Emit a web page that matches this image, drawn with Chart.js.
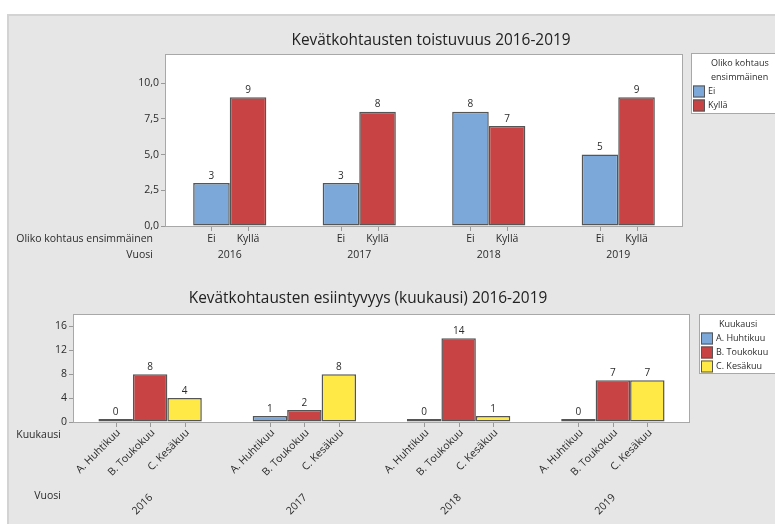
<!DOCTYPE html>
<html>
<head>
<meta charset="utf-8">
<script src="https://cdn.jsdelivr.net/npm/chart.js@4.4.1/dist/chart.umd.min.js"></script>
<style>
  body { margin: 0; background: #fff; width: 775px; height: 525px; position: relative; overflow: hidden; }
  #panel { position: absolute; left: 7px; top: 14px; right: 0; bottom: 1px; background: #e6e6e6;
           border-left: 2px solid #d3d3d3; border-top: 2px solid #d3d3d3; }
  .box { position: absolute; left: 0; width: 775px; }
  #box1 { top: 0; height: 270px; }
  #box2 { top: 270px; height: 255px; }
</style>
</head>
<body>
<div id="panel"></div>
<div class="box" id="box1"><canvas id="chartFirst"></canvas></div>
<div class="box" id="box2"><canvas id="chartMonth"></canvas></div>
<script>
/* =========================
    Data
========================= */
const years = ['2016', '2017', '2018', '2019'];
const firstLabels = ['Ei', 'Kyllä'];
const firstEi = [3, 3, 8, 5];
const firstKylla = [9, 8, 7, 9];
const firstTicks = [0, 2.5, 5, 7.5, 10];

const months = ['A. Huhtikuu', 'B. Toukokuu', 'C. Kesäkuu'];
const monthHuhti = [0, 1, 0, 0];
const monthTouko = [8, 2, 14, 7];
const monthKesa = [4, 8, 1, 7];
const monthTicks = [0, 4, 8, 12, 16];

/* =========================
    Style
========================= */
const FONT = "'Open Sans', 'Noto Sans', sans-serif";
const BLUE = '#7ba7d9';
const RED = '#c84444';
const YELLOW = '#ffe947';
const EDGE = '#555555';
const TEXT = '#2b2b2b';

// zero bars are drawn as a thin black line
function barFill(color) {
    return ctx => (ctx.raw === 0 ? '#111' : color);
}

/* =========================
    Plugin: plot box, labels, legend
========================= */
const decorPlugin = {
    id: 'decor',
    beforeDraw(chart) {
        const { ctx, chartArea: a } = chart;
        ctx.save();
        ctx.fillStyle = '#fff';
        ctx.fillRect(a.left, a.top, a.width, a.height);
        ctx.restore();
    },
    afterDatasetsDraw(chart, args, opts) {
        const { ctx, chartArea: a } = chart;
        const xScale = chart.scales.x;
        ctx.save();

        // plot border
        ctx.strokeStyle = '#a8a8a8';
        ctx.lineWidth = 1;
        ctx.strokeRect(Math.round(a.left) + 0.5, Math.round(a.top) + 0.5,
            Math.round(a.width) - 1, Math.round(a.height));

        // value labels + ticks + sub labels
        chart.data.datasets.forEach((ds, di) => {
            const meta = chart.getDatasetMeta(di);
            meta.data.forEach((bar, i) => {
                ctx.fillStyle = TEXT;
                ctx.font = '10px ' + FONT;
                ctx.textAlign = 'center';
                ctx.textBaseline = 'bottom';
                ctx.fillText(String(ds.data[i]), bar.x, bar.y - 2);

                ctx.strokeStyle = '#999';
                ctx.beginPath();
                ctx.moveTo(Math.round(bar.x) + 0.5, a.bottom + 1);
                ctx.lineTo(Math.round(bar.x) + 0.5, a.bottom + 5);
                ctx.stroke();

                ctx.font = '10.5px ' + FONT;
                if (opts.rotate) {
                    ctx.save();
                    ctx.translate(bar.x + 3, a.bottom + 9);
                    ctx.rotate(-Math.PI / 4);
                    ctx.textAlign = 'right';
                    ctx.textBaseline = 'middle';
                    ctx.fillText(ds.label, 0, 0);
                    ctx.restore();
                } else {
                    ctx.textBaseline = 'middle';
                    ctx.fillText(ds.label, bar.x, a.bottom + opts.subY);
                }
            });
        });

        // group (year) labels
        ctx.font = '10.5px ' + FONT;
        ctx.fillStyle = TEXT;
        chart.data.labels.forEach((lab, i) => {
            const x = xScale.getPixelForValue(i);
            if (opts.rotate) {
                ctx.save();
                ctx.translate(x + 1, a.bottom + opts.groupY);
                ctx.rotate(-Math.PI / 4);
                ctx.textAlign = 'right';
                ctx.textBaseline = 'middle';
                ctx.fillText(lab, 0, 0);
                ctx.restore();
            } else {
                ctx.textAlign = 'center';
                ctx.textBaseline = 'middle';
                ctx.fillText(lab, x, a.bottom + opts.groupY);
            }
        });

        // row names on the left
        ctx.textAlign = 'right';
        ctx.textBaseline = 'middle';
        ctx.fillText(opts.rowNames[0], a.left - 12, a.bottom + opts.subY);
        ctx.fillText(opts.rowNames[1], a.left - 12, a.bottom + opts.groupY);

        // legend
        const lx = a.right + opts.legendGap;
        const ly = a.top + opts.legendTop;
        ctx.fillStyle = '#fff';
        ctx.fillRect(lx, ly, 120, opts.legendHeight);
        ctx.strokeStyle = '#a8a8a8';
        ctx.strokeRect(Math.round(lx) + 0.5, Math.round(ly) + 0.5, 120, opts.legendHeight);
        ctx.font = '9px ' + FONT;
        ctx.fillStyle = TEXT;
        ctx.textAlign = 'left';
        opts.legendTitle.forEach((t, i) => {
            ctx.fillText(t, lx + 20, ly + 10 + i * 14);
        });
        const itemTop = ly + 10 + opts.legendTitle.length * 14;
        chart.data.datasets.forEach((ds, di) => {
            const y = itemTop + di * 14;
            ctx.fillStyle = ds.legendColor;
            ctx.fillRect(lx + 2, y - 6, 12, 12);
            ctx.strokeStyle = EDGE;
            ctx.strokeRect(lx + 2.5, y - 5.5, 11, 11);
            ctx.fillStyle = TEXT;
            ctx.fillText(ds.label, lx + 17, y);
        });

        ctx.restore();
    }
};

/* =========================
    Shared axis helpers
========================= */
function yAxis(max, ticks, width, fmt) {
    return {
        min: 0,
        max: max,
        afterBuildTicks: s => { s.ticks = ticks.map(v => ({ value: v })); },
        afterFit: s => { s.width = width; },
        ticks: { callback: fmt, font: { size: 10.5, family: FONT }, color: TEXT, padding: 2 },
        grid: { drawOnChartArea: false, tickLength: 4, color: '#999' },
        border: { display: false }
    };
}

function xAxis(height) {
    return {
        afterFit: s => { s.height = height; },
        ticks: { display: false },
        grid: { display: false },
        border: { display: false }
    };
}

function spacerAxis(width) {
    return {
        position: 'right',
        display: true,
        afterFit: s => { s.width = width; },
        ticks: { display: false },
        grid: { display: false },
        border: { display: false }
    };
}

/* =========================
    Chart 1: toistuvuus
========================= */
new Chart(document.getElementById('chartFirst'), {
    type: 'bar',
    data: {
        labels: years,
        datasets: [
            { label: firstLabels[0], data: firstEi, backgroundColor: BLUE, legendColor: BLUE },
            { label: firstLabels[1], data: firstKylla, backgroundColor: RED, legendColor: RED }
        ]
    },
    options: {
        responsive: true,
        maintainAspectRatio: false,
        animation: false,
        categoryPercentage: 0.565,
        barPercentage: 1,
        datasets: { bar: { borderColor: EDGE, borderWidth: 1.5, borderSkipped: false } },
        layout: { padding: { left: 87, right: 0, top: 0, bottom: 0 } },
        scales: {
            x: xAxis(44),
            y: yAxis(12, firstTicks, 78, v => v.toFixed(1).replace('.', ',')),
            yR: spacerAxis(92)
        },
        plugins: {
            legend: { display: false },
            tooltip: { enabled: false },
            title: {
                display: true,
                text: 'Kevätkohtausten toistuvuus 2016-2019',
                font: { size: 15.4, family: FONT, weight: 'normal' },
                color: '#222',
                padding: { top: 31, bottom: 5 }
            },
            decor: {
                rotate: false,
                subY: 13,
                groupY: 29,
                rowNames: ['Oliko kohtaus ensimmäinen', 'Vuosi'],
                legendGap: 8,
                legendTop: -1,
                legendHeight: 60,
                legendTitle: ['Oliko kohtaus', 'ensimmäinen']
            }
        }
    },
    plugins: [decorPlugin]
});

/* =========================
    Chart 2: kuukausi
========================= */
new Chart(document.getElementById('chartMonth'), {
    type: 'bar',
    data: {
        labels: years,
        datasets: [
            { label: months[0], data: monthHuhti, backgroundColor: barFill(BLUE), legendColor: BLUE },
            { label: months[1], data: monthTouko, backgroundColor: barFill(RED), legendColor: RED },
            { label: months[2], data: monthKesa, backgroundColor: barFill(YELLOW), legendColor: YELLOW }
        ]
    },
    options: {
        responsive: true,
        maintainAspectRatio: false,
        animation: false,
        categoryPercentage: 0.67,
        barPercentage: 1,
        datasets: { bar: { borderColor: EDGE, borderWidth: 1.5, borderSkipped: false, minBarLength: 3 } },
        layout: { padding: { left: 0, right: 39, top: 0, bottom: 0 } },
        scales: {
            x: xAxis(103),
            y: yAxis(18, monthTicks, 73, v => String(v)),
            yR: spacerAxis(46)
        },
        plugins: {
            legend: { display: false },
            tooltip: { enabled: false },
            title: {
                display: true,
                text: 'Kevätkohtausten esiintyvyys (kuukausi) 2016-2019',
                font: { size: 15.4, family: FONT, weight: 'normal' },
                color: '#222',
                padding: { top: 19, bottom: 7 }
            },
            decor: {
                rotate: true,
                subY: 13,
                groupY: 74,
                rowNames: ['Kuukausi', 'Vuosi'],
                legendGap: 9,
                legendTop: 0,
                legendHeight: 59,
                legendTitle: ['Kuukausi']
            }
        }
    },
    plugins: [decorPlugin]
});
</script>
</body>
</html>
